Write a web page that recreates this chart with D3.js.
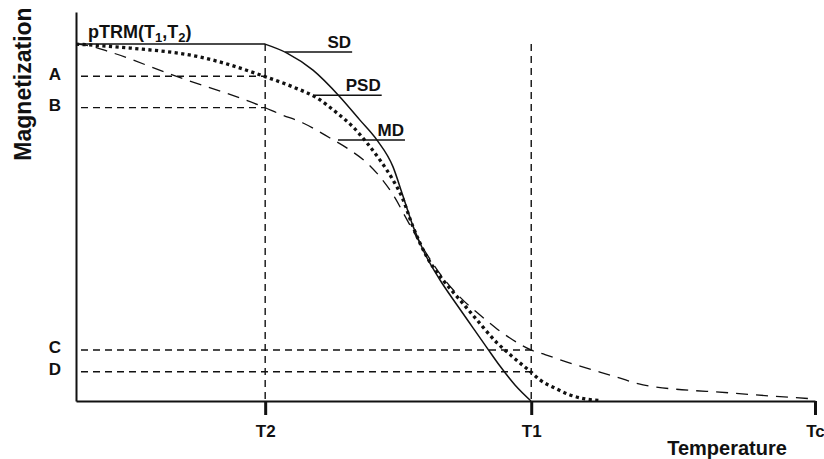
<!DOCTYPE html>
<html>
<head>
<meta charset="utf-8">
<script src="https://cdn.jsdelivr.net/npm/d3@7"></script>
<style>
  body { margin: 0; background: #fff; }
  svg text { font-family: "Liberation Sans", Arial, Helvetica, sans-serif; font-weight: bold; fill: #111; }
</style>
</head>
<body>
<div id="chart"></div>
<script>
// Temperatures (arbitrary units, Tc = 100) and magnetization (normalised, 1 = pTRM)
const T2 = 25.6, T1 = 61.6, TC = 100;
const tickTemps = [T2, T1, TC];
const tickLabels = ["T2", "T1", "Tc"];

// Reference levels at T2 / T1
const levelNames = ["A", "B", "C", "D"];
const levelValues = [0.91, 0.822, 0.143, 0.082];
const levelEnds = [T2, T2, T1, T1];

// SD curve (solid)
const sdTemp = [0, 25.58, 28.55, 32.07, 35.72, 38.43, 40.73, 42.90, 44.11, 45.60, 47.23, 49.26, 51.56, 53.72, 55.62, 57.37, 59.40, 61.57];
const sdMag  = [1, 1, 0.975, 0.927, 0.852, 0.787, 0.731, 0.656, 0.583, 0.490, 0.412, 0.339, 0.269, 0.205, 0.149, 0.098, 0.045, 0];

// PSD curve (dotted)
const psdTemp = [0, 7.31, 16.78, 25.58, 29.36, 32.61, 35.32, 37.48, 39.38, 41.14, 42.90, 44.11, 45.60, 47.50, 49.66, 51.96, 54.26, 56.97, 59.13, 61.57, 62.79, 64.82, 66.85, 68.88, 70.91];
const psdMag  = [1, 0.989, 0.964, 0.909, 0.880, 0.849, 0.807, 0.768, 0.723, 0.675, 0.619, 0.572, 0.488, 0.403, 0.339, 0.283, 0.227, 0.163, 0.123, 0.081, 0.059, 0.036, 0.017, 0.006, 0.0015];

// MD curve (dashed)
const mdTemp = [0, 1.89, 4.60, 13.13, 25.58, 27.60, 30.72, 34.37, 37.08, 39.38, 41.14, 43.17, 44.52, 46.55, 48.99, 51.96, 54.67, 56.97, 59.13, 61.57, 63.46, 66.44, 73.20, 76.73, 88.90, 99.73];
const mdMag  = [1, 0.995, 0.978, 0.913, 0.822, 0.804, 0.779, 0.737, 0.703, 0.667, 0.628, 0.569, 0.518, 0.443, 0.364, 0.291, 0.241, 0.202, 0.171, 0.143, 0.130, 0.109, 0.067, 0.045, 0.022, 0.006];

// Curve labels: name and the point on the curve where the leader starts
const curveNames = ["SD", "PSD", "MD"];
const labelTemps = [28.3, 32.3, 35.45];
const labelMags = [0.978, 0.857, 0.731];

const w = 824, h = 459;
const m = { left: 76, right: 9, top: 12, bottom: 58 };

const svg = d3.select("#chart").append("svg")
    .attr("width", w)
    .attr("height", h);

const x = d3.scaleLinear().domain([0, TC]).range([m.left, w - m.right]);
const y = d3.scaleLinear().domain([0, 1.09]).range([h - m.bottom, m.top]);

// Guide lines (dashed)
const guides = svg.append("g")
    .attr("fill", "none")
    .attr("stroke", "#111")
    .attr("stroke-width", 1.4)
    .attr("stroke-dasharray", "7,5");

levelValues.forEach((v, i) => {
    guides.append("line")
        .attr("x1", x(0) + 5).attr("x2", x(levelEnds[i]))
        .attr("y1", y(v)).attr("y2", y(v));
});
[T2, T1].forEach(t => {
    guides.append("line")
        .attr("x1", x(t)).attr("x2", x(t))
        .attr("y1", y(1)).attr("y2", y(0));
});

// Level labels
svg.selectAll(".level")
    .data(levelNames)
    .enter().append("text")
    .attr("class", "level")
    .attr("x", x(0) - 21)
    .attr("y", (d, i) => y(levelValues[i]) - 2)
    .attr("dominant-baseline", "central")
    .attr("text-anchor", "middle")
    .attr("font-size", 17)
    .text(d => d);

// Curves
const smooth = d3.line().x(d => x(d[0])).y(d => y(d[1])).curve(d3.curveMonotoneX);

const sdPts = sdTemp.map((t, i) => [t, sdMag[i]]);
const psdPts = psdTemp.map((t, i) => [t, psdMag[i]]);
const mdPts = mdTemp.map((t, i) => [t, mdMag[i]]);

// SD: straight plateau up to T2, then a smooth drop
const sdPath = "M" + x(sdPts[0][0]) + "," + y(sdPts[0][1]) + "L" + smooth(sdPts.slice(1)).slice(1);

svg.append("path")
    .attr("d", smooth(mdPts))
    .attr("fill", "none")
    .attr("stroke", "#111")
    .attr("stroke-width", 1.3)
    .attr("stroke-dasharray", "12,8");

svg.append("path")
    .attr("d", smooth(psdPts))
    .attr("fill", "none")
    .attr("stroke", "#111")
    .attr("stroke-width", 3.3)
    .attr("stroke-dasharray", "3.2,3.4");

svg.append("path")
    .attr("d", sdPath)
    .attr("fill", "none")
    .attr("stroke", "#111")
    .attr("stroke-width", 1.5);

// Curve labels with leader lines
curveNames.forEach((name, i) => {
    const x0 = x(labelTemps[i]), y0 = y(labelMags[i]);
    svg.append("line")
        .attr("x1", x0).attr("x2", x0 + 67)
        .attr("y1", y0).attr("y2", y0)
        .attr("stroke", "#111")
        .attr("stroke-width", 1.5);
    svg.append("text")
        .attr("x", x0 + 66)
        .attr("y", y0 - 4)
        .attr("text-anchor", "end")
        .attr("font-size", 17)
        .text(name);
});

// Axes
const xAxis = d3.axisBottom(x)
    .tickValues(tickTemps)
    .tickFormat((d, i) => tickLabels[i])
    .tickSize(14)
    .tickSizeOuter(0);

const gx = svg.append("g")
    .attr("transform", "translate(0," + y(0) + ")")
    .call(xAxis);
gx.select(".domain").attr("stroke", "#111").attr("stroke-width", 2);
gx.selectAll(".tick line").attr("stroke", "#111").attr("stroke-width", 3);
gx.selectAll(".tick text")
    .attr("y", 36)
    .attr("dy", 0)
    .attr("font-size", 17)
    .attr("font-family", null)
    .attr("fill", "#111");

const gy = svg.append("g")
    .attr("transform", "translate(" + x(0) + ",0)")
    .call(d3.axisLeft(y).tickValues([]).tickSizeOuter(0));
gy.select(".domain").attr("stroke", "#111").attr("stroke-width", 2);

// Axis titles
svg.append("text")
    .attr("x", 727)
    .attr("y", 455)
    .attr("text-anchor", "middle")
    .attr("font-size", 20)
    .text("Temperature");

svg.append("text")
    .attr("transform", "translate(31,84) rotate(-90)")
    .attr("text-anchor", "middle")
    .attr("font-size", 23)
    .text("Magnetization");

// pTRM label with subscripts
const ptrm = svg.append("text")
    .attr("x", 88)
    .attr("y", 38)
    .attr("font-size", 18);
ptrm.append("tspan").text("pTRM(T");
ptrm.append("tspan").attr("dy", 4).attr("font-size", 13).text("1");
ptrm.append("tspan").attr("dy", -4).text(",T");
ptrm.append("tspan").attr("dy", 4).attr("font-size", 13).text("2");
ptrm.append("tspan").attr("dy", -4).text(")");
</script>
</body>
</html>
